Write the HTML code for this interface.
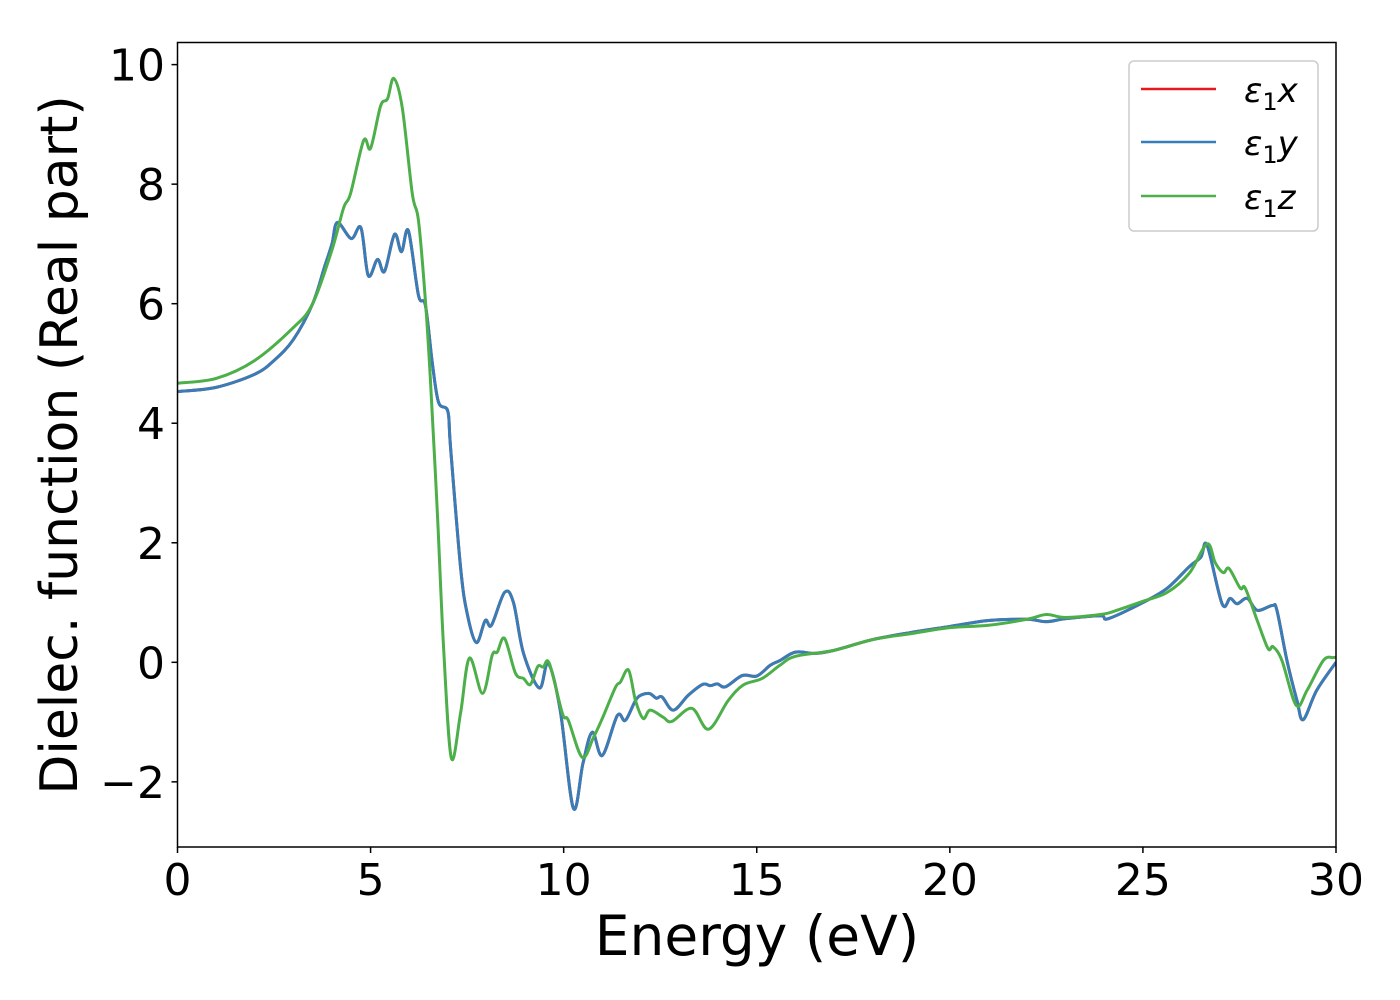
<!DOCTYPE html>
<html><head><meta charset="utf-8"><style>
html,body{margin:0;padding:0;background:#fff;}
svg{display:block;font-family:"DejaVu Sans","Liberation Sans",sans-serif;}
</style></head><body>
<svg id="chart" width="1400" height="1000" viewBox="0 0 1400 1000">
<rect x="0" y="0" width="1400" height="1000" fill="#fff"/>
<defs><clipPath id="clip"><rect x="177" y="42" width="1159" height="805"/></clipPath></defs>
<g id="series" clip-path="url(#clip)"></g>
<rect x="177.5" y="42.5" width="1158.5" height="804.5" fill="none" stroke="#000" stroke-width="1.5"/>
<g id="xticks"></g>
<g id="yticks"></g>
<text x="757" y="955" font-size="55" text-anchor="middle">Energy (eV)</text>
<text transform="translate(77,445) rotate(-90)" font-size="52" text-anchor="middle">Dielec. function (Real part)</text>
<g>
<rect x="1129" y="61" width="189" height="170" rx="5" fill="#fff" stroke="#ccc" stroke-width="1.5"/>
<line x1="1141" y1="89" x2="1216" y2="89" stroke="#e41a1c" stroke-width="2.5"/>
<text x="1244" y="102" font-size="34"><tspan font-style="italic">ε</tspan><tspan font-size="24" dy="8">1</tspan><tspan font-style="italic" dy="-8">x</tspan></text>
<line x1="1141" y1="142" x2="1216" y2="142" stroke="#377eb8" stroke-width="2.5"/>
<text x="1244" y="155" font-size="34"><tspan font-style="italic">ε</tspan><tspan font-size="24" dy="8">1</tspan><tspan font-style="italic" dy="-8">y</tspan></text>
<line x1="1141" y1="196" x2="1216" y2="196" stroke="#4daf4a" stroke-width="2.5"/>
<text x="1244" y="209" font-size="34"><tspan font-style="italic">ε</tspan><tspan font-size="24" dy="8">1</tspan><tspan font-style="italic" dy="-8">z</tspan></text>
</g>
</svg>
<script>
const xyEnergy=[0,1,2,2.5,3,3.5,3.8,4.0,4.14,4.5,4.75,4.94,5.18,5.36,5.62,5.8,5.98,6.24,6.42,6.6,6.76,7.0,7.07,7.33,7.5,7.74,7.97,8.13,8.47,8.7,8.96,9.37,9.6,9.91,10.25,10.5,10.74,11.0,11.39,11.6,11.9,12.2,12.4,12.55,12.84,13.23,13.6,13.8,13.98,14.19,14.63,15.0,15.35,15.6,16,16.5,17,18,19,20,21,22,22.5,23,23.9,24.1,25.0,25.63,26.2,26.5,26.66,27.05,27.26,27.44,27.7,27.96,28.35,28.47,28.73,28.99,29.15,29.5,30];
const eps1x=[4.53,4.6,4.82,5.05,5.4,6.0,6.6,7.0,7.36,7.09,7.27,6.47,6.74,6.54,7.16,6.87,7.22,6.14,5.97,5.0,4.35,4.2,3.6,1.59,0.82,0.33,0.7,0.62,1.17,1.0,0.15,-0.43,-0.02,-0.8,-2.44,-1.69,-1.17,-1.56,-0.89,-0.97,-0.6,-0.52,-0.6,-0.58,-0.8,-0.55,-0.37,-0.39,-0.36,-0.41,-0.22,-0.23,-0.05,0.03,0.17,0.15,0.2,0.38,0.5,0.6,0.7,0.72,0.68,0.73,0.78,0.73,1.0,1.24,1.6,1.76,1.96,0.98,1.07,0.98,1.07,0.87,0.95,0.87,0.03,-0.64,-0.96,-0.47,0];
const eps1y=eps1x.slice();
const zEnergy=[0,1,2,3,3.5,4,4.3,4.48,4.82,5.0,5.26,5.44,5.6,5.82,6.08,6.24,6.42,6.55,6.73,6.89,7.09,7.33,7.56,7.9,8.15,8.28,8.47,8.75,8.96,9.14,9.33,9.47,9.63,9.97,10.12,10.48,10.77,11.0,11.34,11.47,11.68,11.86,12.06,12.24,12.58,12.8,13.32,13.75,14.26,14.65,15.14,15.6,16,17,18,19,20,21,22,22.5,23,23.9,24.23,25.0,25.63,26.2,26.66,26.87,27.08,27.23,27.52,27.65,27.96,28.24,28.37,28.6,28.97,29.25,29.67,29.92,30];
const eps1z=[4.67,4.75,5.05,5.6,6.0,6.9,7.6,7.84,8.73,8.6,9.31,9.43,9.77,9.28,7.84,7.39,6.05,4.72,2.49,0.25,-1.6,-0.85,0.07,-0.52,0.12,0.17,0.4,-0.18,-0.27,-0.37,-0.07,-0.08,-0.02,-0.86,-0.97,-1.59,-1.26,-0.94,-0.42,-0.33,-0.13,-0.64,-0.94,-0.8,-0.92,-0.99,-0.77,-1.12,-0.64,-0.38,-0.27,-0.05,0.1,0.2,0.38,0.48,0.58,0.62,0.72,0.8,0.75,0.8,0.85,1.02,1.17,1.49,1.98,1.67,1.5,1.57,1.24,1.24,0.7,0.23,0.26,0.03,-0.72,-0.47,0.03,0.08,0.08];
const xTicks=[0,5,10,15,20,25,30];
const yTicks=[-2,0,2,4,6,8,10];

const X0=177.5,X1=1336,XMIN=0,XMAX=30;
const Y0=847,Y1=42.5,YMIN=-3.09,YMAX=10.37;
function sx(v){return X0+(v-XMIN)/(XMAX-XMIN)*(X1-X0);}
function sy(v){return Y0-(v-YMIN)/(YMAX-YMIN)*(Y0-Y1);}
const NS="http://www.w3.org/2000/svg";
function pathFor(xs,ys){
  const p=xs.map((x,i)=>[sx(x),sy(ys[i])]);
  let d="M"+p[0][0].toFixed(2)+","+p[0][1].toFixed(2);
  for(let i=0;i<p.length-1;i++){
    const a=p[i-1]||p[i],b=p[i],c=p[i+1],e=p[i+2]||c;
    const c1=[b[0]+(c[0]-a[0])/6,b[1]+(c[1]-a[1])/6];
    const c2=[c[0]-(e[0]-b[0])/6,c[1]-(e[1]-b[1])/6];
    d+="C"+c1[0].toFixed(2)+","+c1[1].toFixed(2)+" "+c2[0].toFixed(2)+","+c2[1].toFixed(2)+" "+c[0].toFixed(2)+","+c[1].toFixed(2);
  }
  return d;
}
const g=document.getElementById("series");
function addLine(xs,ys,color,name){
  const el=document.createElementNS(NS,"path");
  el.setAttribute("d",pathFor(xs,ys));
  el.setAttribute("fill","none");
  el.setAttribute("stroke",color);
  el.setAttribute("stroke-width","3");
  el.setAttribute("stroke-linejoin","round");
  
  
  g.appendChild(el);
}
addLine(xyEnergy,eps1x,"#e41a1c","line-eps1x");
addLine(xyEnergy,eps1y,"#377eb8","line-eps1y");
addLine(zEnergy,eps1z,"#4daf4a","line-eps1z");

const xt=document.getElementById("xticks");
xTicks.forEach(v=>{
  const l=document.createElementNS(NS,"line");
  l.setAttribute("x1",sx(v));l.setAttribute("x2",sx(v));
  l.setAttribute("y1",Y0);l.setAttribute("y2",Y0+6);
  l.setAttribute("stroke","#000");l.setAttribute("stroke-width","1.5");
  
  
  xt.appendChild(l);
  const t=document.createElementNS(NS,"text");
  t.setAttribute("x",sx(v));t.setAttribute("y",895);
  t.setAttribute("font-size","44");t.setAttribute("text-anchor","middle");
  t.textContent=String(v);
  
  
  xt.appendChild(t);
});
const yt=document.getElementById("yticks");
yTicks.forEach(v=>{
  const l=document.createElementNS(NS,"line");
  l.setAttribute("x1",X0-6);l.setAttribute("x2",X0);
  l.setAttribute("y1",sy(v));l.setAttribute("y2",sy(v));
  l.setAttribute("stroke","#000");l.setAttribute("stroke-width","1.5");
  
  
  yt.appendChild(l);
  const t=document.createElementNS(NS,"text");
  t.setAttribute("x",165);t.setAttribute("y",sy(v)+16);
  t.setAttribute("font-size","44");t.setAttribute("text-anchor","end");
  t.textContent=v<0?"\u2212"+Math.abs(v):String(v);
  
  
  yt.appendChild(t);
});
</script>
</body></html>
